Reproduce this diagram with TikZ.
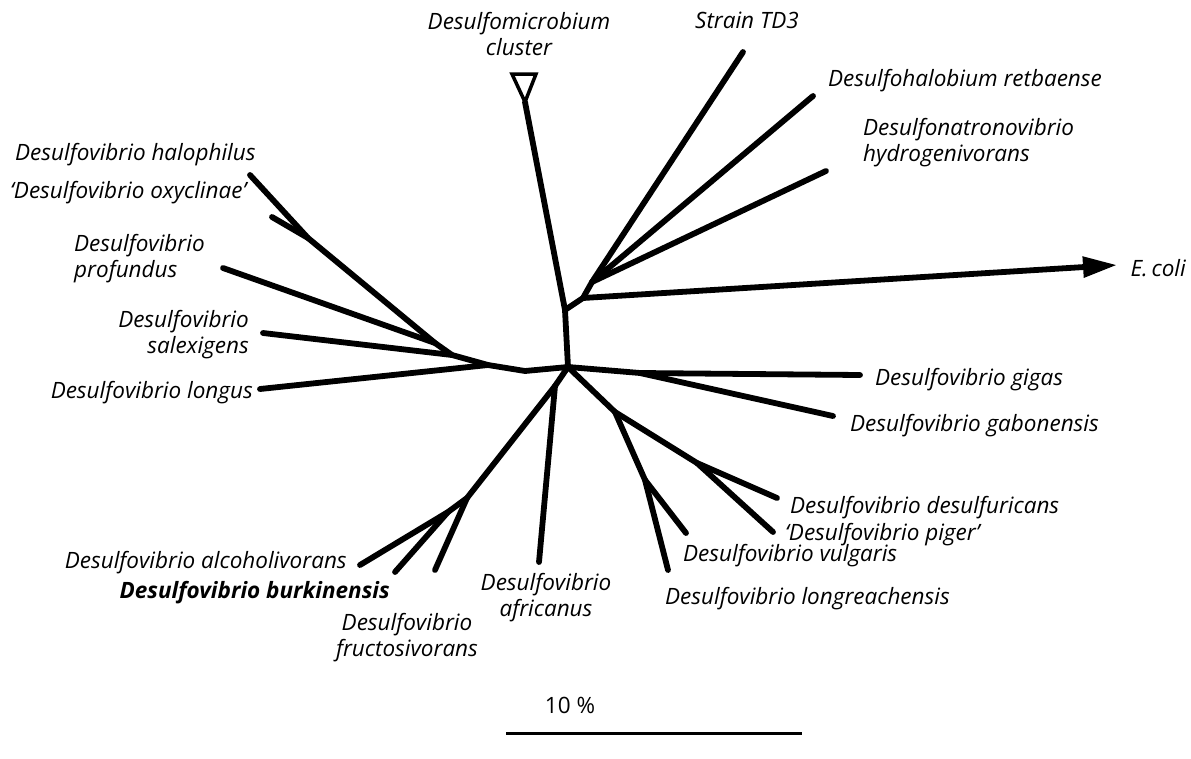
\documentclass[tikz,border=0pt]{standalone}
\usepackage{fontspec}
\setmainfont{Open Sans}
\usetikzlibrary{arrows.meta}
\begin{document}
\begin{tikzpicture}[x=1pt,y=-1pt,
  branch/.style={line width=5.8pt,line cap=round,line join=round},
  lbl/.style={font=\fontsize{22.5}{26}\selectfont\itshape,inner sep=0pt},
  boldlbl/.style={font=\fontsize{22.5}{26}\selectfont\bfseries\itshape,inner sep=0pt}]
\useasboundingbox (0,0) rectangle (1191,758);
% --- coordinates ---
\coordinate (C) at (568,367);
\coordinate (L1) at (525,371);
\coordinate (L2) at (488,365);
\coordinate (La) at (452,355);
\coordinate (Lb) at (435,343);
\coordinate (Lc) at (308,238);
\coordinate (halo) at (250,175);
\coordinate (oxy) at (272,217);
\coordinate (prof) at (223,268);
\coordinate (salex) at (263,333);
\coordinate (long) at (260,389);
\coordinate (U1) at (565,310);
\coordinate (Tapex) at (525,102);
\coordinate (Tl) at (512,74);
\coordinate (Tr) at (536,74);
\coordinate (U2) at (583,298);
\coordinate (U3) at (592,282);
\coordinate (td3) at (743,52);
\coordinate (halob) at (813,96);
\coordinate (natro) at (826,171);
\coordinate (ecoli) at (1117,265);
\coordinate (R1) at (640,373);
\coordinate (gigas) at (860,375);
\coordinate (gabon) at (833,416);
\coordinate (D1) at (615,412);
\coordinate (D2) at (697,463);
\coordinate (desulf) at (777,498);
\coordinate (piger) at (773,532);
\coordinate (V1) at (645,480);
\coordinate (vulg) at (686,533);
\coordinate (longr) at (668,570);
\coordinate (A1) at (555,386);
\coordinate (afr) at (539,562);
\coordinate (B1) at (467,498);
\coordinate (B2) at (448,512);
\coordinate (alco) at (360,565);
\coordinate (burk) at (395,572);
\coordinate (fruc) at (435,570);
\coordinate (sb1) at (506,733);
\coordinate (sb2) at (802,733);
% --- branches ---
\draw[branch] (C) -- (L1) -- (L2) -- (La) -- (Lb) -- (Lc) -- (halo);
\draw[branch] (Lc) -- (oxy);
\draw[branch] (Lb) -- (prof);
\draw[branch] (La) -- (salex);
\draw[branch] (L2) -- (long);
\draw[branch] (C) -- (U1) -- (Tapex);
\draw[line width=3.5pt,line join=miter] (Tl) -- (Tr) -- (Tapex) -- cycle;
\draw[branch] (U1) -- (U2) -- (U3) -- (td3);
\draw[branch] (U3) -- (halob);
\draw[branch] (U3) -- (natro);
\draw[branch,-{Triangle[length=34pt,width=20pt]}] (U2) -- (ecoli);
\draw[branch] (C) -- (R1) -- (gigas);
\draw[branch] (R1) -- (gabon);
\draw[branch] (C) -- (D1) -- (D2) -- (desulf);
\draw[branch] (D2) -- (piger);
\draw[branch] (D1) -- (V1) -- (longr);
\draw[branch] (V1) -- (vulg);
\draw[branch] (C) -- (A1) -- (afr);
\draw[branch] (A1) -- (B1) -- (B2) -- (alco);
\draw[branch] (B2) -- (burk);
\draw[branch] (B1) -- (fruc);
\draw[line width=3pt] (sb1) -- (sb2);
% --- labels ---
\node[lbl,anchor=north,align=center] (nmicro) at (519,12) {Desulfomicrobium\\cluster};
\node[lbl,anchor=base west] (ntd3) at (695,28) {Strain TD3};
\node[lbl,anchor=base west] (nhalob) at (828,86) {Desulfohalobium retbaense};
\node[lbl,anchor=north west,align=left] (nnatro) at (863,118) {Desulfonatronovibrio\\hydrogenivorans};
\node[lbl,anchor=base east] (necoli) at (1186,276) {E.\,coli};
\node[lbl,anchor=base west] (nhalo) at (15,160) {Desulfovibrio halophilus};
\node[lbl,anchor=base west] (noxy) at (10,198) {‘Desulfovibrio oxyclinae’};
\node[lbl,anchor=north west,align=left] (nprof) at (74,234) {Desulfovibrio\\profundus};
\node[lbl,anchor=north east,align=right] (nsalex) at (249,310) {Desulfovibrio\\salexigens};
\node[lbl,anchor=base east] (nlong) at (253,398) {Desulfovibrio longus};
\node[lbl,anchor=base west] (ngigas) at (875,385) {Desulfovibrio gigas};
\node[lbl,anchor=base west] (ngabon) at (850,431) {Desulfovibrio gabonensis};
\node[lbl,anchor=base west] (ndesulf) at (790,513) {Desulfovibrio desulfuricans};
\node[lbl,anchor=base west] (npiger) at (785,540) {‘Desulfovibrio piger’};
\node[lbl,anchor=base west] (nvulg) at (683,561) {Desulfovibrio vulgaris};
\node[lbl,anchor=base west] (nlongr) at (665,604) {Desulfovibrio longreachensis};
\node[lbl,anchor=base east] (nalco) at (347,568) {Desulfovibrio alcoholivorans};
\node[boldlbl,anchor=base east] (nburk) at (390,598) {Desulfovibrio burkinensis};
\node[lbl,anchor=north,align=center] (nfruc) at (407,613) {Desulfovibrio\\fructosivorans};
\node[lbl,anchor=north,align=center] (nafr) at (546,573) {Desulfovibrio\\africanus};
\node[font=\fontsize{22.5}{26}\selectfont,inner sep=0pt,anchor=base] (nscale) at (570,713) {10 \%};
\end{tikzpicture}
\end{document}
